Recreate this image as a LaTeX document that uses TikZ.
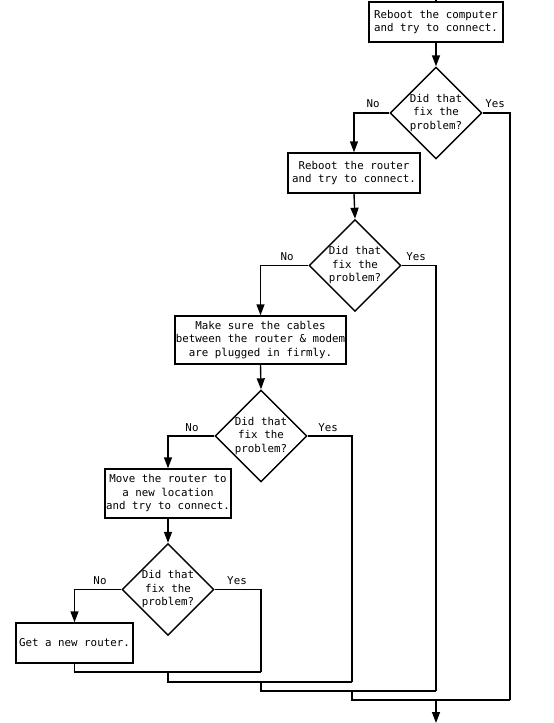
\documentclass[tikz,border=0pt]{standalone}
\usepackage{fontspec}
\setmainfont{DejaVu Sans Mono}
\usetikzlibrary{shapes.geometric,arrows.meta}
\begin{document}
\begin{tikzpicture}[x=1pt,y=-1pt,
  every node/.style={font=\fontsize{10.8}{13.5}\selectfont, align=center},
  box/.style={draw, line width=1.4pt, inner sep=0pt},
  dia/.style={draw, diamond, aspect=1, line width=1.4pt, inner sep=0pt, minimum width=92pt, minimum height=92pt},
  lbl/.style={inner sep=0pt},
  ln/.style={line width=1.4pt},
  arr/.style={line width=1.4pt, -{Triangle[length=11pt,width=8pt]}}]
\useasboundingbox (0,0) rectangle (554,723);
% boxes
\node[box, minimum width=134pt, minimum height=40pt] (b1) at (436,22) {Reboot the computer\\and try to connect.};
\node[box, minimum width=132pt, minimum height=40pt] (b2) at (354,173) {Reboot the router\\and try to connect.};
\node[box, minimum width=171pt, minimum height=48pt] (b3) at (260.5,340) {Make sure the cables\\between the router \& modem\\are plugged in firmly.};
\node[box, minimum width=126pt, minimum height=49pt] (b4) at (168,493.5) {Move the router to\\a new location\\and try to connect.};
\node[box, minimum width=117pt, minimum height=40pt] (b5) at (74.5,643) {Get a new router.};
% diamonds
\node[dia] (d1) at (436,113) {Did that\\fix the\\problem?};
\node[dia] (d2) at (355,265.5) {Did that\\fix the\\problem?};
\node[dia] (d3) at (261,436) {Did that\\fix the\\problem?};
\node[dia] (d4) at (168,589.5) {Did that\\fix the\\problem?};
% labels
\node[lbl] (n1) at (373,104) {No};
\node[lbl] (y1) at (495,104) {Yes};
\node[lbl] (n2) at (287,257) {No};
\node[lbl] (y2) at (416,257) {Yes};
\node[lbl] (n3) at (192,428) {No};
\node[lbl] (y3) at (328,428) {Yes};
\node[lbl] (n4) at (100,581) {No};
\node[lbl] (y4) at (237,581) {Yes};
% coordinates
\coordinate (top) at (436,0);
\coordinate (ye1) at (510,700);
\coordinate (ye2) at (436,691);
\coordinate (ye3) at (352,682);
\coordinate (ye4) at (261,672);
\coordinate (m1) at (168,672);
\coordinate (m2) at (261,682);
\coordinate (m3) at (352,691);
\coordinate (m4) at (436,700);
\coordinate (end) at (436,723);
% main flow
\draw[ln] (top) -- (b1.north);
\draw[arr] (b1.south) -- (d1.north);
\draw[arr] (d1.west) -| (b2.north);
\draw[arr] (b2.south) -- (d2.north);
\draw[arr] (d2.west) -| (b3.north);
\draw[arr] (b3.south) -- (d3.north);
\draw[arr] (d3.west) -| (b4.north);
\draw[arr] (b4.south) -- (d4.north);
\draw[arr] (d4.west) -| (b5.north);
% yes branches
\draw[ln] (d1.east) -| (ye1);
\draw[ln] (d2.east) -| (ye2);
\draw[ln] (d3.east) -| (ye3);
\draw[ln] (d4.east) -| (ye4);
% merges
\draw[ln] (b5.south) |- (ye4);
\draw[ln] (m1) |- (ye3);
\draw[ln] (m2) |- (ye2);
\draw[ln] (m3) |- (ye1);
\draw[arr] (m4) -- (end);
\end{tikzpicture}
\end{document}
